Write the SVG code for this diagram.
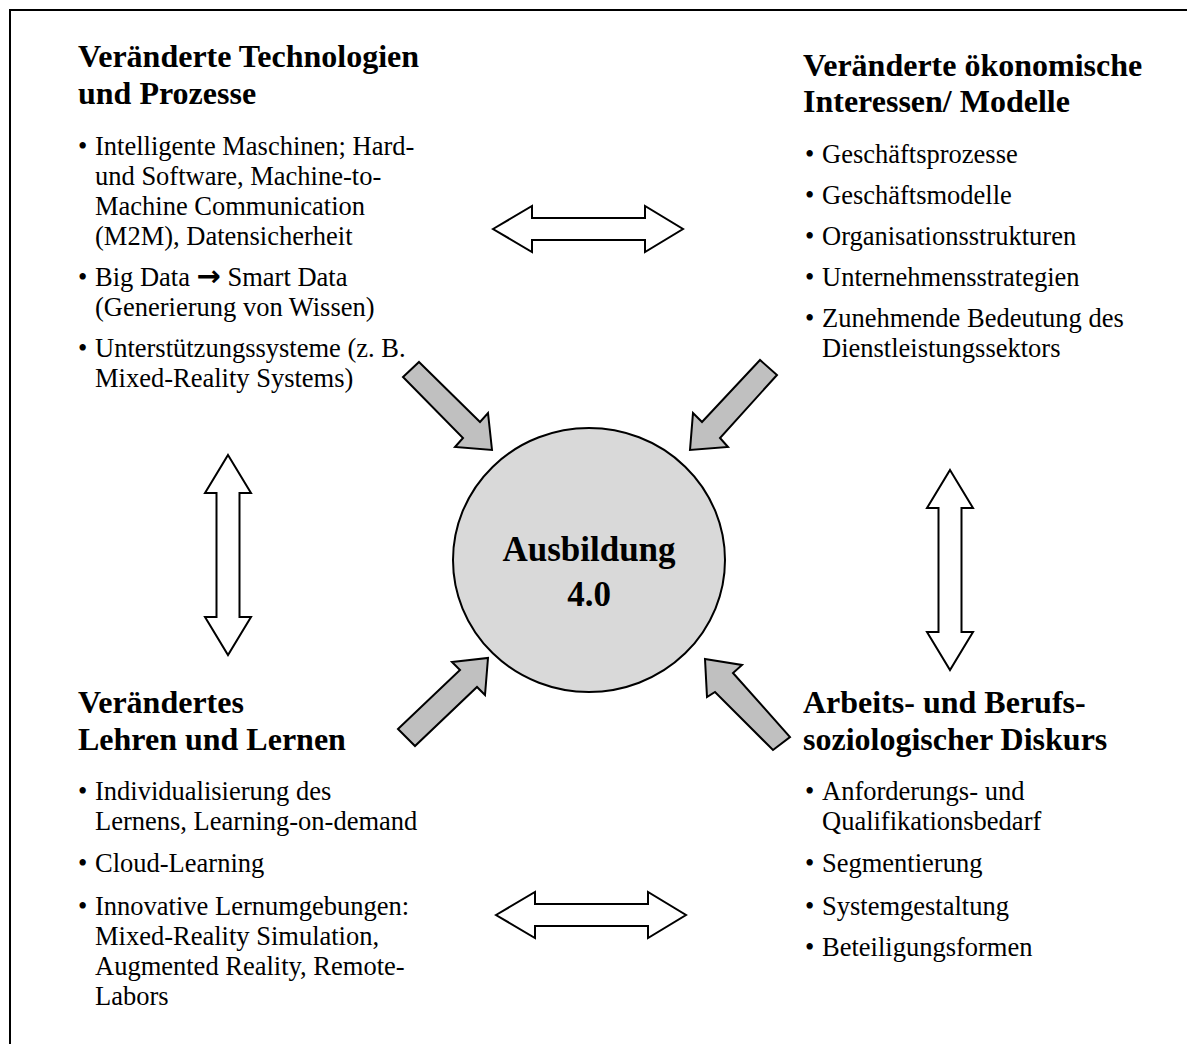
<svg xmlns="http://www.w3.org/2000/svg" width="1187" height="1044" viewBox="0 0 1187 1044">
<style>
text{font-family:"Liberation Serif","Times New Roman",serif;fill:#000}
.h{font-size:32px;font-weight:bold}
.b{font-size:26.5px}
.c{font-size:35px;font-weight:bold}
.ar{font-family:"DejaVu Sans",sans-serif;font-weight:bold;font-size:29px}
.dbl{fill:#fff;stroke:#000;stroke-width:2;stroke-linejoin:miter}
.gray{fill:#c0c0c0;stroke:#000;stroke-width:2;stroke-linejoin:miter}
</style>
<rect width="1187" height="1044" fill="#fff"/>
<path d="M10,1044 V10 H1187" fill="none" stroke="#000" stroke-width="2"/>

<g id="connectors">
<polygon class="dbl" points="493,229 532,206 532,218 645,218 645,206 683,229 645,252 645,240 532,240 532,252"/>
<polygon class="dbl" points="496,915 535,892 535,904 648,904 648,892 686,915 648,938 648,926 535,926 535,938"/>
<polygon class="dbl" points="228,455 251,493 239.5,493 239.5,617 251,617 228,655 205,617 216.5,617 216.5,493 205,493"/>
<polygon class="dbl" points="950,470 973,508 961.5,508 961.5,632 973,632 950,670 927,632 938.5,632 938.5,508 927,508"/>
<polygon class="gray" points="419,362 480,422 488,413 492,450 455,447 463,438 403,377"/>
<polygon class="gray" points="760,360 702,422 693,413 690,450 728,447 720,438 777,375"/>
<polygon class="gray" points="398,729 460,670 452,662 488,658 485,695 477,687 415,746"/>
<polygon class="gray" points="705,659 742,665 733,673 790,737 773,750 715,692 707,697"/>
</g>

<g id="center">
<ellipse cx="589" cy="560" rx="136" ry="132" fill="#d9d9d9" stroke="#000" stroke-width="2"/>
<text class="c" x="589" y="561" text-anchor="middle">Ausbildung</text>
<text class="c" x="589" y="606" text-anchor="middle">4.0</text>
</g>

<g id="technologien">
<text class="h" x="78" y="67">Veränderte Technologien</text>
<text class="h" x="78" y="104">und Prozesse</text>
<text class="b" x="78" y="155">•</text>
<text class="b" x="95" y="155">Intelligente Maschinen; Hard-</text>
<text class="b" x="95" y="185">und Software, Machine-to-</text>
<text class="b" x="95" y="215">Machine Communication</text>
<text class="b" x="95" y="245">(M2M), Datensicherheit</text>
<text class="b" x="78" y="286">•</text>
<text class="b" x="95" y="286">Big Data <tspan class="ar">→</tspan> Smart Data</text>
<text class="b" x="95" y="316">(Generierung von Wissen)</text>
<text class="b" x="78" y="357">•</text>
<text class="b" x="95" y="357">Unterstützungssysteme (z. B.</text>
<text class="b" x="95" y="387">Mixed-Reality Systems)</text>
</g>

<g id="oekonomie">
<text class="h" x="803" y="76">Veränderte ökonomische</text>
<text class="h" x="803" y="112">Interessen/ Modelle</text>
<text class="b" x="805" y="163">•</text>
<text class="b" x="822" y="163">Geschäftsprozesse</text>
<text class="b" x="805" y="204">•</text>
<text class="b" x="822" y="204">Geschäftsmodelle</text>
<text class="b" x="805" y="245">•</text>
<text class="b" x="822" y="245">Organisationsstrukturen</text>
<text class="b" x="805" y="286">•</text>
<text class="b" x="822" y="286">Unternehmensstrategien</text>
<text class="b" x="805" y="327">•</text>
<text class="b" x="822" y="327">Zunehmende Bedeutung des</text>
<text class="b" x="822" y="357">Dienstleistungssektors</text>
</g>

<g id="lehren">
<text class="h" x="78" y="713">Verändertes</text>
<text class="h" x="78" y="750">Lehren und Lernen</text>
<text class="b" x="78" y="800">•</text>
<text class="b" x="95" y="800">Individualisierung des</text>
<text class="b" x="95" y="830">Lernens, Learning-on-demand</text>
<text class="b" x="78" y="872">•</text>
<text class="b" x="95" y="872">Cloud-Learning</text>
<text class="b" x="78" y="915">•</text>
<text class="b" x="95" y="915">Innovative Lernumgebungen:</text>
<text class="b" x="95" y="945">Mixed-Reality Simulation,</text>
<text class="b" x="95" y="975">Augmented Reality, Remote-</text>
<text class="b" x="95" y="1005">Labors</text>
</g>

<g id="arbeit">
<text class="h" x="803" y="713">Arbeits- und Berufs-</text>
<text class="h" x="803" y="750">soziologischer Diskurs</text>
<text class="b" x="805" y="800">•</text>
<text class="b" x="822" y="800">Anforderungs- und</text>
<text class="b" x="822" y="830">Qualifikationsbedarf</text>
<text class="b" x="805" y="872">•</text>
<text class="b" x="822" y="872">Segmentierung</text>
<text class="b" x="805" y="915">•</text>
<text class="b" x="822" y="915">Systemgestaltung</text>
<text class="b" x="805" y="956">•</text>
<text class="b" x="822" y="956">Beteiligungsformen</text>
</g>
</svg>
